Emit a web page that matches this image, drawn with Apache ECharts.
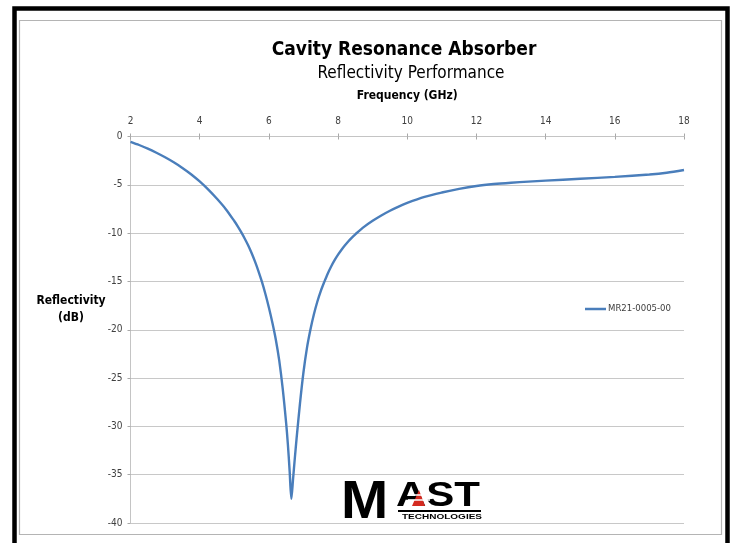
<!DOCTYPE html>
<html>
<head>
<meta charset="utf-8">
<script src="https://cdn.jsdelivr.net/npm/echarts@6/dist/echarts.min.js"></script>
<style>
  html, body { margin: 0; padding: 0; background: #ffffff; }
  #chart { width: 734px; height: 543px; }
</style>
</head>
<body>
<div id="chart"></div>
<script>
// Measured reflectivity of the cavity resonance absorber, MR21-0005-00
const seriesName = 'MR21-0005-00';
const freqGHz = [
  2.0, 2.25, 2.5, 2.75, 3.0, 3.25, 3.5, 3.75, 4.0, 4.25, 4.5, 4.75, 5.0,
  5.1, 5.2, 5.3, 5.4, 5.5, 5.6, 5.7, 5.8, 5.9, 6.0, 6.1, 6.2, 6.3, 6.4, 6.5, 6.55, 6.6, 6.65,
  6.7, 6.75, 6.8, 6.9, 7.0, 7.1, 7.2, 7.3, 7.4, 7.5, 7.6, 7.7, 7.8, 7.9, 8.0,
  8.1, 8.2, 8.3, 8.4, 8.5,
  8.75, 9.0, 9.25, 9.5, 9.75, 10.0, 10.5, 11.0, 11.5, 12.0, 12.5, 13.0, 13.5, 14.0,
  15.0, 16.0, 17.0, 17.5, 18.0
];
const reflectivityDb = [
  -0.55, -0.88, -1.25, -1.68, -2.15, -2.67, -3.25, -3.9, -4.65, -5.5, -6.45, -7.5, -8.75,
  -9.3, -9.9, -10.55, -11.25, -12.05, -12.95, -13.95, -15.05, -16.3, -17.7, -19.25, -21.0, -23.2, -26.1, -29.7, -31.9, -34.6, -37.5,
  -35.4, -33.3, -31.3, -27.6, -24.4, -21.9, -20.0, -18.42, -17.1, -16.0, -15.07, -14.2, -13.45, -12.8, -12.23,
  -11.72, -11.26, -10.84, -10.46, -10.12,
  -9.35, -8.72, -8.17, -7.68, -7.25, -6.87, -6.25, -5.8, -5.42, -5.12, -4.92, -4.78, -4.67, -4.57,
  -4.38, -4.18, -3.93, -3.75, -3.47
];
const xRange = { min: 2, max: 18, step: 2 };
const yRange = { min: -40, max: 0, step: 5 };

const chart = echarts.init(document.getElementById('chart'), null, { renderer: 'canvas' });

const points = freqGHz.map((f, i) => [f, reflectivityDb[i]]);
const textFont = "'Liberation Sans Narrow', 'DejaVu Sans Condensed', 'Liberation Sans', sans-serif";

chart.setOption({
  backgroundColor: '#ffffff',
  animation: false,
  title: [
    {
      text: 'Cavity Resonance Absorber',
      left: 399, top: 36, textAlign: 'center',
      textStyle: { fontFamily: textFont, fontWeight: 'bold', fontSize: 19, color: '#000000' }
    },
    {
      text: 'Reflectivity Performance',
      left: 406, top: 60, textAlign: 'center',
      textStyle: { fontFamily: textFont, fontWeight: 'normal', fontSize: 17, color: '#000000' }
    }
  ],
  legend: {
    data: [seriesName],
    left: 580, top: 299,
    icon: 'rect', itemWidth: 21, itemHeight: 2.5, itemGap: 4,
    textStyle: { fontFamily: textFont, fontSize: 9.5, color: '#404040', padding: [0, 0, 0, -3] }
  },
  grid: { left: 130.5, top: 136.5, width: 553.5, height: 386.5, containLabel: false },
  xAxis: [
    {
      type: 'value', position: 'top',
      min: xRange.min, max: xRange.max, interval: xRange.step,
      name: 'Frequency (GHz)', nameLocation: 'middle', nameGap: 35,
      nameTextStyle: { fontFamily: textFont, fontWeight: 'bold', fontSize: 12, color: '#000000' },
      axisLine: { show: true, lineStyle: { color: '#c4c4c4', width: 1 } },
      axisTick: { show: true, length: 3, lineStyle: { color: '#a8a8a8' } },
      axisLabel: { margin: 10, fontFamily: textFont, fontSize: 10, color: '#404040' },
      splitLine: { show: false }
    },
    {
      // inner half of the crossing tick marks on the frequency axis
      type: 'value', position: 'top',
      min: xRange.min, max: xRange.max, interval: xRange.step,
      axisLine: { show: false },
      axisTick: { show: true, inside: true, length: 3, lineStyle: { color: '#a8a8a8' } },
      axisLabel: { show: false },
      splitLine: { show: false }
    }
  ],
  yAxis: {
    type: 'value',
    min: yRange.min, max: yRange.max, interval: yRange.step,
    axisLine: { show: true, lineStyle: { color: '#c4c4c4', width: 1 } },
    axisTick: { show: true, length: 3, lineStyle: { color: '#a8a8a8' } },
    axisLabel: { margin: 8, fontFamily: textFont, fontSize: 10, color: '#404040' },
    splitLine: { show: true, lineStyle: { color: '#c8c8c8', width: 1.2 } }
  },
  series: [
    {
      name: seriesName,
      type: 'line',
      data: points,
      xAxisIndex: 0,
      showSymbol: false,
      smooth: 0.3,
      lineStyle: { color: '#4a7ebb', width: 2.4 },
      itemStyle: { color: '#4a7ebb' }
    }
  ],
  graphic: [
    // outer black frame and inner chart-area border
    { type: 'rect', shape: { x: 14.5, y: 8.5, width: 713, height: 560 }, style: { fill: null, stroke: '#000000', lineWidth: 4.5 }, z: 10 },
    { type: 'rect', shape: { x: 19.5, y: 20.5, width: 702, height: 514 }, style: { fill: null, stroke: '#b4b4b4', lineWidth: 1.2 }, z: 10 },
    // vertical axis title
    { type: 'text', z: 11, x: 71, y: 292,
      style: { text: 'Reflectivity\n(dB)', align: 'center', fontFamily: textFont, fontWeight: 'bold', fontSize: 12, lineHeight: 17, fill: '#000000' } },
    // company logo
    { type: 'text', left: 341, top: 476, z: 12,
      style: { text: 'M', fontFamily: "'Liberation Sans', sans-serif", fontWeight: 'bold', fontSize: 54, fill: '#000000' },
      scaleX: 1.05 },
    { type: 'text', left: 396, top: 479, z: 12,
      style: { text: 'AST', fontFamily: "'Liberation Sans', sans-serif", fontWeight: 'bold', fontSize: 35, fill: '#000000' },
      scaleX: 1.2 },
    { type: 'polygon', z: 13, shape: { points: [[419, 490], [412, 506], [425, 506]] }, style: { fill: '#d42a20' } },
    { type: 'line', z: 14, shape: { x1: 410, y1: 495, x2: 428, y2: 495 }, style: { stroke: '#ffffff', lineWidth: 1.5 } },
    { type: 'line', z: 14, shape: { x1: 408, y1: 500, x2: 430, y2: 500 }, style: { stroke: '#ffffff', lineWidth: 1.5 } },
    { type: 'rect', z: 12, shape: { x: 398, y: 510, width: 83, height: 2 }, style: { fill: '#000000' } },
    { type: 'text', left: 402, top: 513, z: 12,
      style: { text: 'TECHNOLOGIES', fontFamily: "'Liberation Sans', sans-serif", fontWeight: 'bold', fontSize: 8, fill: '#000000' },
      scaleX: 1.25 }
  ]
});
</script>
</body>
</html>
